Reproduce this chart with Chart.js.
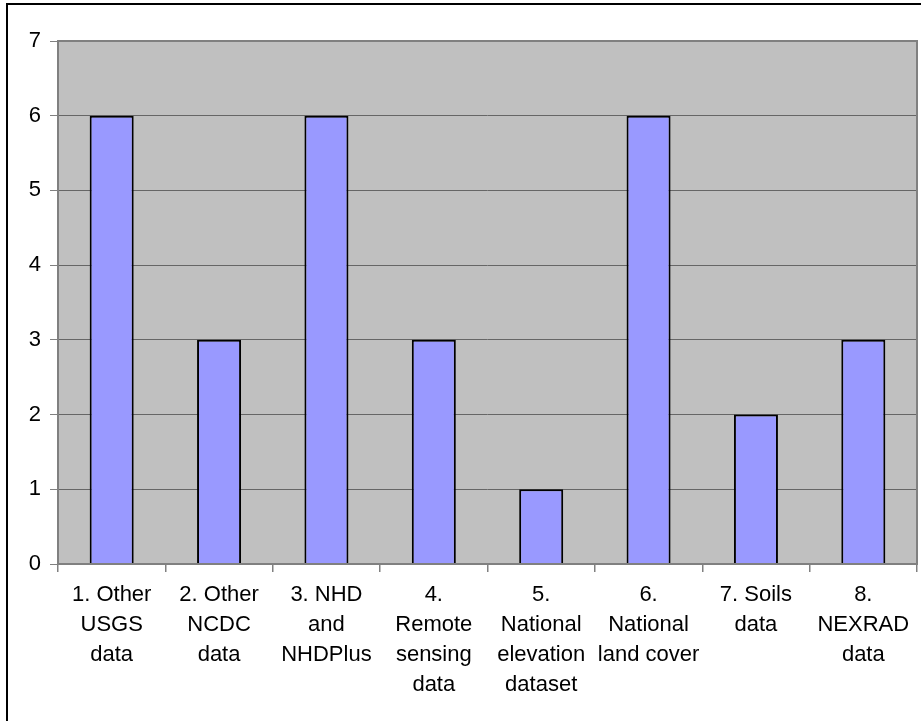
<!DOCTYPE html>
<html>
<head>
<meta charset="utf-8">
<script src="https://cdn.jsdelivr.net/npm/chart.js@4/dist/chart.umd.min.js"></script>
<style>
  html, body { margin: 0; padding: 0; background: #ffffff; }
  #wrap { width: 921px; height: 721px; position: relative; }
</style>
</head>
<body>
<div id="wrap"><canvas id="chart" width="921" height="721"></canvas></div>
<script>
// Data sources used, by number of responses
const categories = [
  "1. Other USGS data",
  "2. Other NCDC data",
  "3. NHD and NHDPlus",
  "4. Remote sensing data",
  "5. National elevation dataset",
  "6. National land cover",
  "7. Soils data",
  "8. NEXRAD data"
];
// Wrapped category labels as shown under each bar
const categoryLines = [
  ["1. Other", "USGS", "data"],
  ["2. Other", "NCDC", "data"],
  ["3. NHD", "and", "NHDPlus"],
  ["4.", "Remote", "sensing", "data"],
  ["5.", "National", "elevation", "dataset"],
  ["6.", "National", "land cover"],
  ["7. Soils", "data"],
  ["8.", "NEXRAD", "data"]
];
const counts = [6, 3, 6, 3, 1, 6, 2, 3];
const yTicks = [0, 1, 2, 3, 4, 5, 6, 7];

const FONT = "'Liberation Sans', Arial, sans-serif";

// Grey plot background, plot border and the outer frame
const framePlugin = {
  id: 'frame',
  beforeDraw(chart) {
    const { ctx, chartArea: a } = chart;
    ctx.save();
    ctx.fillStyle = '#ffffff';
    ctx.fillRect(0, 0, chart.width, chart.height);
    ctx.fillStyle = '#000000';
    ctx.fillRect(6, 3, chart.width - 6, 2);
    ctx.fillRect(6, 3, 2, chart.height - 3);
    ctx.fillStyle = '#c0c0c0';
    ctx.fillRect(a.left, a.top, a.right - a.left, a.bottom - a.top);
    ctx.restore();
  },
  afterDatasetsDraw(chart) {
    const { ctx, chartArea: a } = chart;
    ctx.save();
    ctx.strokeStyle = '#808080';
    ctx.lineWidth = 2;
    ctx.strokeRect(a.left, a.top, a.right - a.left, a.bottom - a.top);
    ctx.restore();
  }
};

new Chart(document.getElementById('chart'), {
  type: 'bar',
  data: {
    labels: categoryLines,
    datasets: [{
      data: counts,
      backgroundColor: '#9999ff',
      borderColor: '#000000',
      borderWidth: 2,
      barPercentage: 0.41,
      categoryPercentage: 1.0
    }]
  },
  options: {
    responsive: false,
    animation: false,
    layout: { padding: { left: 0, top: 41, right: 4, bottom: 0 } },
    plugins: {
      legend: { display: false },
      tooltip: { enabled: false }
    },
    scales: {
      x: {
        offset: true,
        grid: {
          offset: true,
          drawOnChartArea: false,
          drawTicks: true,
          tickLength: 8,
          color: '#808080',
          lineWidth: 1.5
        },
        border: { display: false },
        ticks: {
          color: '#000000',
          maxRotation: 0,
          autoSkip: false,
          padding: 8,
          font: { family: FONT, size: 22, lineHeight: '30px' }
        },
        afterFit(scale) { scale.height = 721 - 564; }
      },
      y: {
        min: 0,
        max: 7,
        afterBuildTicks(scale) { scale.ticks = yTicks.map(v => ({ value: v })); },
        grid: {
          color: '#666666',
          lineWidth: 1,
          tickLength: 8,
          tickColor: '#808080'
        },
        border: { display: false },
        ticks: {
          color: '#000000',
          padding: 9,
          font: { family: FONT, size: 22 }
        },
        afterFit(scale) { scale.width = 58; }
      }
    }
  },
  plugins: [framePlugin]
});
</script>
</body>
</html>
